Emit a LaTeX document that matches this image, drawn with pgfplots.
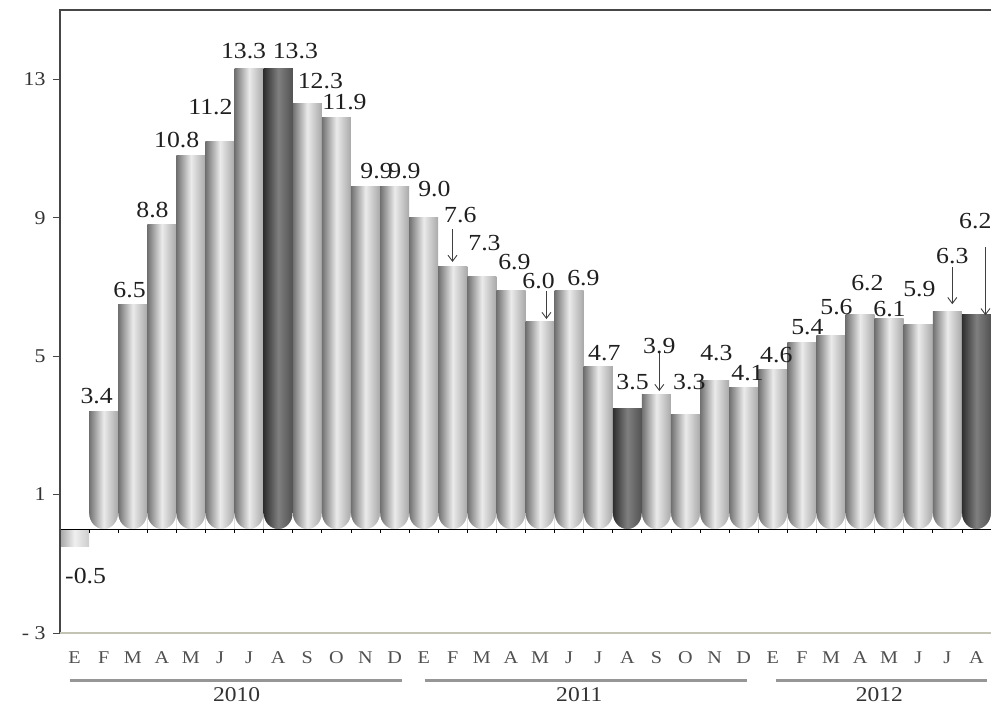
\documentclass[border=0pt]{standalone}
\usepackage{fontspec}
\setmainfont{Liberation Serif}
\newfontfamily\valfont{Liberation Serif}[FakeStretch=1.12]
\usepackage{pgfplots}
\usepackage{pgfplotstable}
\pgfplotsset{compat=1.18}
\usetikzlibrary{arrows.meta}
\definecolor{olive}{RGB}{196,196,180}
\definecolor{axisgray}{RGB}{70,70,70}
\definecolor{monthgray}{RGB}{80,80,80}
\definecolor{yeargray}{RGB}{150,150,150}

\pgfplotstableread{
x y t
0.38 -1.36 -0.5
0.76 3.84 3.4
1.89 6.91 6.5
2.68 9.22 8.8
3.51 11.24 10.8
4.67 12.20 11.2
5.81 13.82 13.3
7.59 13.82 13.3
8.45 12.95 12.3
9.28 12.34 11.9
10.38 10.35 9.9
11.34 10.35 9.9
12.37 9.83 9.0
13.26 9.08 7.6
14.09 8.27 7.3
15.12 7.72 6.9
15.95 7.17 6.0
17.49 7.25 6.9
18.21 5.09 4.7
19.18 4.25 3.5
20.10 5.29 3.9
21.13 4.25 3.3
22.06 5.09 4.3
23.13 4.51 4.1
24.12 5.03 4.6
25.19 5.84 5.4
26.19 6.42 5.6
27.25 7.11 6.2
28.01 6.36 6.1
29.04 6.94 5.9
30.17 7.89 6.3
30.96 8.90 6.2
}\labels

\pgfplotstableread{
x y v
12.99 8.67 -0.95
16.22 6.88 -0.81
20.10 5.12 -1.13
30.17 7.57 -1.07
31.31 8.15 -1.97
}\arrows

\begin{document}
\begin{tikzpicture}
\begin{axis}[
  at={(60bp,75bp)}, anchor=south west,
  scale only axis, width=931bp, height=623bp,
  xmin=-0.5, xmax=31.5, ymin=-3, ymax=15,
  clip=false,
  axis line style={draw=none},
  ytick={-3,1,5,9,13},
  yticklabels={- 3,1,5,9,13},
  ytick pos=left,
  tick align=outside,
  major tick length=7bp,
  ytick style={axisgray, line width=1bp},
  yticklabel style={font=\valfont\fontsize{19.5bp}{22bp}\selectfont, text=black!80, xshift=-4bp},
  xtick={0,...,31},
  xticklabels={E,F,M,A,M,J,J,A,S,O,N,D,E,F,M,A,M,J,J,A,S,O,N,D,E,F,M,A,M,J,J,A},
  xtick style={draw=none},
  xticklabel style={font=\valfont\fontsize{18bp}{20bp}\selectfont, text=monthgray, anchor=north, yshift=-8bp},
  /pgf/number format/assume math mode=true,
  lbar/.style={ybar, bar width=1, bar shift=0pt, draw=none,
    left color=black!56, right color=black!34, middle color=black!8},
  dbar/.style={ybar, bar width=1, bar shift=0pt, draw=none,
    left color=black!82, right color=black!68, middle color=black!50},
]
\addplot[ybar, bar width=1, bar shift=0pt, draw=none,
    left color=black!35, right color=black!20, middle color=black!6] coordinates {(0,-0.5)};
\addplot[lbar] coordinates {(1,3.4)};
\addplot[lbar] coordinates {(2,6.5)};
\addplot[lbar] coordinates {(3,8.8)};
\addplot[lbar] coordinates {(4,10.8)};
\addplot[lbar] coordinates {(5,11.2)};
\addplot[lbar] coordinates {(6,13.3)};
\addplot[dbar] coordinates {(7,13.3)};
\addplot[lbar] coordinates {(8,12.3)};
\addplot[lbar] coordinates {(9,11.9)};
\addplot[lbar] coordinates {(10,9.9)};
\addplot[lbar] coordinates {(11,9.9)};
\addplot[lbar] coordinates {(12,9.0)};
\addplot[lbar] coordinates {(13,7.6)};
\addplot[lbar] coordinates {(14,7.3)};
\addplot[lbar] coordinates {(15,6.9)};
\addplot[lbar] coordinates {(16,6.0)};
\addplot[lbar] coordinates {(17,6.9)};
\addplot[lbar] coordinates {(18,4.7)};
\addplot[dbar] coordinates {(19,3.5)};
\addplot[lbar] coordinates {(20,3.9)};
\addplot[lbar] coordinates {(21,3.3)};
\addplot[lbar] coordinates {(22,4.3)};
\addplot[lbar] coordinates {(23,4.1)};
\addplot[lbar] coordinates {(24,4.6)};
\addplot[lbar] coordinates {(25,5.4)};
\addplot[lbar] coordinates {(26,5.6)};
\addplot[lbar] coordinates {(27,6.2)};
\addplot[lbar] coordinates {(28,6.1)};
\addplot[lbar] coordinates {(29,5.9)};
\addplot[lbar] coordinates {(30,6.3)};
\addplot[dbar] coordinates {(31,6.2)};
% rounded bottoms of the bars
\pgfplotsinvokeforeach{1,...,31}{
  \fill[white] (axis cs:#1,0) arc[start angle=270, end angle=360, x radius=14.55bp, y radius=16bp] |- (axis cs:#1,0);
  \fill[white] (axis cs:#1,0) arc[start angle=270, end angle=180, x radius=14.55bp, y radius=16bp] |- (axis cs:#1,0);
}
% zero line and small ticks
\draw[black, line width=1bp] (axis cs:-0.5,0) -- (axis cs:31.5,0);
\pgfplotsinvokeforeach{0,...,30}{
  \draw[black, line width=0.8bp] (axis cs:#1.5,0) -- ([yshift=-4bp]axis cs:#1.5,0);
}
% frame lines
\draw[axisgray, line width=1.5bp] (rel axis cs:0,0) -- (rel axis cs:0,1) -- (rel axis cs:1,1);
\draw[olive, line width=2bp] (rel axis cs:0,0) -- (rel axis cs:1,0);
% value labels
\addplot[draw=none, mark=none, point meta=explicit symbolic,
  nodes near coords={\valfont\fontsize{23bp}{25bp}\selectfont\pgfplotspointmeta},
  nodes near coords style={anchor=center, inner sep=0pt, text=black!88}]
  table[x=x,y=y,meta=t] {\labels};
% arrows
\addplot[black!75, line width=0.9bp, quiver={u=0, v=\thisrow{v},
  every arrow/.append style={-{Straight Barb[length=6bp,width=9bp]}}}]
  table[x=x,y=y] {\arrows};
% year groups
\draw[yeargray, line width=3bp] ([yshift=-47bp]axis cs:-0.17,-3) -- ([yshift=-47bp]axis cs:11.24,-3);
\draw[yeargray, line width=3bp] ([yshift=-47bp]axis cs:12.03,-3) -- ([yshift=-47bp]axis cs:23.13,-3);
\draw[yeargray, line width=3bp] ([yshift=-47bp]axis cs:24.12,-3) -- ([yshift=-47bp]axis cs:31.37,-3);
\node[font=\valfont\fontsize{21bp}{23bp}\selectfont, text=black!80] at ([yshift=-62bp]axis cs:5.57,-3) {2010};
\node[font=\valfont\fontsize{21bp}{23bp}\selectfont, text=black!80] at ([yshift=-62bp]axis cs:17.35,-3) {2011};
\node[font=\valfont\fontsize{21bp}{23bp}\selectfont, text=black!80] at ([yshift=-62bp]axis cs:27.66,-3) {2012};
\end{axis}
\pgfresetboundingbox
\path[use as bounding box] (0bp,0bp) rectangle (991bp,708bp);
\end{tikzpicture}
\end{document}
